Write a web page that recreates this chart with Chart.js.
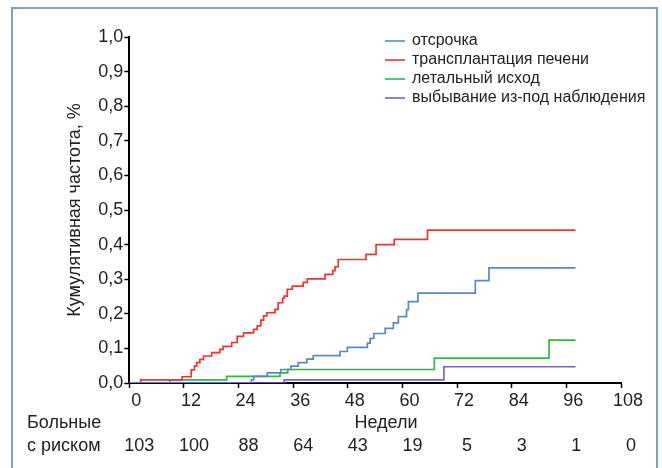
<!DOCTYPE html>
<html>
<head>
<meta charset="utf-8">
<script src="https://cdn.jsdelivr.net/npm/chart.js@4.4.1/dist/chart.umd.min.js"></script>
<style>
  html, body { margin: 0; padding: 0; background: #fff; }
</style>
</head>
<body>
<canvas id="myChart" width="662" height="468"></canvas>
<script>
const fontFamily = '"Liberation Sans", Arial, sans-serif';

const seriesNames = ['отсрочка', 'трансплантация печени', 'летальный исход', 'выбывание из-под наблюдения'];
const seriesColors = ['#5b87c6', '#e8382f', '#2fb93f', '#7f62b8'];

// cumulative incidence, step points (week, value)
const deferWeeks = [0, 26.8, 27.3, 30.3, 33.3, 35.5, 37.1, 39.0, 40.4, 46.3, 47.9, 52.3, 52.9, 53.7, 56.2, 58.0, 59.1, 60.9, 61.3, 63.4, 76.0, 79.0, 98];
const deferValues = [0, 0.009, 0.019, 0.029, 0.039, 0.049, 0.059, 0.069, 0.079, 0.091, 0.103, 0.115, 0.129, 0.143, 0.158, 0.174, 0.192, 0.212, 0.235, 0.260, 0.296, 0.333, 0.333];

const transplantWeeks = [0, 2.5, 11.6, 13.6, 14.3, 14.8, 15.5, 16.3, 18.1, 19.9, 20.6, 22.5, 23.7, 25.1, 27.3, 28.1, 28.9, 29.5, 30.2, 32.0, 32.7, 33.7, 34.0, 34.7, 35.8, 38.2, 39.1, 43.0, 44.7, 45.2, 45.9, 52.0, 54.2, 58.2, 65.5, 98];
const transplantValues = [0, 0.009, 0.018, 0.038, 0.049, 0.059, 0.068, 0.078, 0.088, 0.097, 0.106, 0.117, 0.135, 0.145, 0.155, 0.165, 0.182, 0.194, 0.203, 0.213, 0.232, 0.245, 0.251, 0.271, 0.280, 0.291, 0.301, 0.314, 0.325, 0.336, 0.357, 0.372, 0.400, 0.415, 0.442, 0.442];

const deathWeeks = [0, 8.9, 21.4, 33.1, 34.8, 67.0, 92.2, 98];
const deathValues = [0, 0.009, 0.019, 0.029, 0.039, 0.072, 0.124, 0.124];

const lostWeeks = [0, 34.0, 69.1, 98];
const lostValues = [0, 0.009, 0.047, 0.047];

const xTicks = [0, 12, 24, 36, 48, 60, 72, 84, 96, 108];
const atRisk = [103, 100, 88, 64, 43, 19, 5, 3, 1, 0];

function toPoints(weeks, values) {
  return weeks.map((w, i) => ({ x: w, y: values[i] }));
}

const allWeeks = [deferWeeks, transplantWeeks, deathWeeks, lostWeeks];
const allValues = [deferValues, transplantValues, deathValues, lostValues];

const datasets = seriesNames.map((name, i) => ({
  label: name,
  data: toPoints(allWeeks[i], allValues[i]),
  borderColor: seriesColors[i],
  backgroundColor: seriesColors[i],
  borderWidth: 1.7,
  stepped: true,
  pointRadius: 0,
  fill: false
}));

// frame, legend, at-risk table
const extras = {
  id: 'extras',
  afterDraw(chart) {
    const ctx = chart.ctx;
    const xs = chart.scales.x;
    ctx.save();

    ctx.strokeStyle = '#7aa2cf';
    ctx.lineWidth = 2;
    ctx.beginPath();
    ctx.moveTo(12, 470);
    ctx.lineTo(12, 8);
    ctx.lineTo(657, 8);
    ctx.lineTo(657, 470);
    ctx.stroke();

    ctx.font = '16px ' + fontFamily;
    ctx.textBaseline = 'middle';
    seriesNames.forEach((name, i) => {
      const y = 41 + i * 19;
      ctx.strokeStyle = seriesColors[i];
      ctx.lineWidth = 1.6;
      ctx.beginPath();
      ctx.moveTo(385, y);
      ctx.lineTo(405, y);
      ctx.stroke();
      ctx.fillStyle = '#222';
      ctx.textAlign = 'left';
      ctx.fillText(name, 412, y);
    });

    ctx.font = '18px ' + fontFamily;
    ctx.fillStyle = '#222';
    ctx.textAlign = 'left';
    ctx.fillText('Больные', 27, 423);
    ctx.fillText('с риском', 27, 446);
    ctx.textAlign = 'center';
    ctx.fillText('Недели', 386, 423);
    xTicks.forEach((t, i) => {
      ctx.fillText(String(atRisk[i]), xs.getPixelForValue(t) + 10, 446);
    });
    ctx.restore();
  }
};

const config = {
  type: 'line',
  data: { datasets: datasets },
  options: {
    responsive: false,
    animation: false,
    devicePixelRatio: 1,
    layout: { padding: { top: 37, right: 41, bottom: 0, left: 0 } },
    plugins: {
      legend: { display: false },
      tooltip: { enabled: false }
    },
    scales: {
      x: {
        type: 'linear',
        min: 0,
        max: 108,
        ticks: {
          stepSize: 12,
          labelOffset: 7,
          padding: 2,
          maxRotation: 0,
          color: '#222',
          font: { family: fontFamily, size: 18 }
        },
        grid: { drawOnChartArea: false, drawTicks: true, tickLength: 5, tickColor: '#000', tickWidth: 1.5 },
        border: { color: '#000', width: 2 },
        afterFit: s => { s.height = 85; }
      },
      y: {
        min: 0,
        max: 1,
        ticks: {
          stepSize: 0.1,
          padding: 1,
          color: '#222',
          font: { family: fontFamily, size: 18 },
          callback: v => v.toFixed(1).replace('.', ',')
        },
        grid: { drawOnChartArea: false, drawTicks: true, tickLength: 5, tickColor: '#000', tickWidth: 1.5 },
        border: { color: '#000', width: 2 },
        title: {
          display: true,
          text: 'Кумулятивная частота, %',
          color: '#222',
          font: { family: fontFamily, size: 18 },
          padding: { top: 64, bottom: 0 }
        },
        afterFit: s => { s.width = 129.3; }
      }
    }
  },
  plugins: [extras]
};

const myChart = new Chart(document.getElementById('myChart'), config);
</script>
</body>
</html>
